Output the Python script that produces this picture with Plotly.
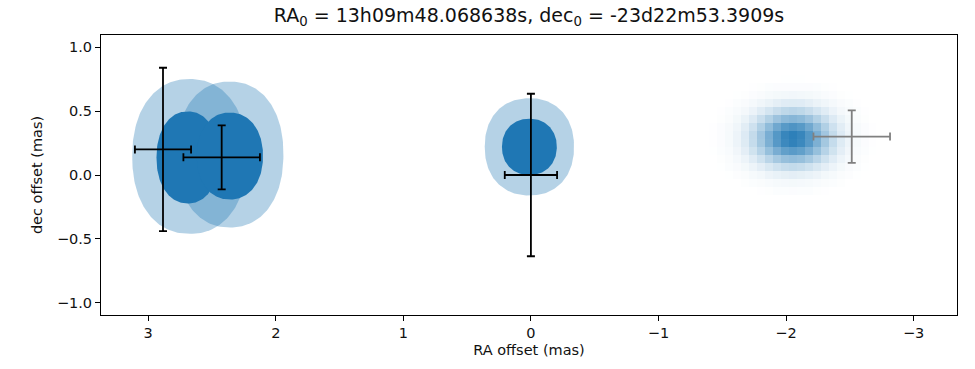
import numpy as np
import plotly.graph_objects as go

# ---- data ----
# outer (light) contours of the three sources
outer_x = [2.675, 2.36, 0.012]
outer_y = [0.145, 0.16, 0.22]
outer_rx = [0.45, 0.42, 0.35]
outer_ry = [0.605, 0.57, 0.38]
# inner (dark) contours
core_x = [2.69, 2.36, 0.012]
core_y = [0.137, 0.148, 0.22]
core_rx = [0.245, 0.26, 0.215]
core_ry = [0.36, 0.34, 0.22]

# black error bars
eb_x = [2.884, 2.424, 0.0]
eb_y = [0.20, 0.138, 0.0]
eb_xerr = [0.22, 0.30, 0.205]
eb_yerr = [0.638, 0.25, 0.635]

# grey error bar
gray_x = [-2.515]
gray_y = [0.30]
gray_xerr = [0.30]
gray_yerr = [0.205]

# pixelated model image (gaussian) parameters
img_cx, img_cy = -2.055, 0.29
img_sx, img_sy = 0.195, 0.14
img_step = 0.0625
img_half_x, img_half_y = 0.75, 0.6

x_ticks = [3, 2, 1, 0, -1, -2, -3]
x_ticklabels = ["3", "2", "1", "0", "\u22121", "\u22122", "\u22123"]
y_ticks = [-1.0, -0.5, 0.0, 0.5, 1.0]
y_ticklabels = ["\u22121.0", "\u22120.5", "0.0", "0.5", "1.0"]

BLUE = "#1f77b4"
LIGHT = "rgba(31,119,180,0.33)"


def superellipse(cx, cy, rx, ry, n=2.0, npts=200):
    t = np.linspace(0, 2 * np.pi, npts)
    c, s = np.cos(t), np.sin(t)
    x = cx + rx * np.sign(c) * np.abs(c) ** (2.0 / n)
    y = cy + ry * np.sign(s) * np.abs(s) ** (2.0 / n)
    return x, y


fig = go.Figure()

# model image
gx = np.arange(img_cx - img_half_x, img_cx + img_half_x + 1e-9, img_step)
gy = np.arange(img_cy - img_half_y, img_cy + img_half_y + 1e-9, img_step)
GX, GY = np.meshgrid(gx, gy)
Z = np.exp(-((GX - img_cx) ** 2) / (2 * img_sx ** 2) - ((GY - img_cy) ** 2) / (2 * img_sy ** 2))
fig.add_trace(go.Heatmap(
    x=gx, y=gy, z=Z, zmin=0, zmax=1.0,
    colorscale=[[0, "rgba(255,255,255,0)"], [0.01, "rgba(31,119,180,0.015)"], [1, "rgba(31,119,180,0.95)"]],
    showscale=False, hoverinfo="skip", zsmooth=False,
))

# light contours
for cx, cy, rx, ry in zip(outer_x, outer_y, outer_rx, outer_ry):
    x, y = superellipse(cx, cy, rx, ry, n=2.2)
    fig.add_trace(go.Scatter(x=x, y=y, fill="toself", fillcolor=LIGHT,
                             mode="lines", line=dict(width=0), hoverinfo="skip",
                             showlegend=False))
# dark contours
for cx, cy, rx, ry in zip(core_x, core_y, core_rx, core_ry):
    x, y = superellipse(cx, cy, rx, ry, n=2.15)
    fig.add_trace(go.Scatter(x=x, y=y, fill="toself", fillcolor=BLUE,
                             mode="lines", line=dict(width=0), hoverinfo="skip",
                             showlegend=False))

# error bars
fig.add_trace(go.Scatter(
    x=eb_x, y=eb_y, mode="markers", marker=dict(size=0.1, color="black"),
    error_x=dict(type="data", array=eb_xerr, color="black", thickness=1.8, width=4),
    error_y=dict(type="data", array=eb_yerr, color="black", thickness=1.8, width=4),
    showlegend=False, hoverinfo="skip",
))
fig.add_trace(go.Scatter(
    x=gray_x, y=gray_y, mode="markers", marker=dict(size=0.1, color="gray"),
    error_x=dict(type="data", array=gray_xerr, color="#808080", thickness=1.8, width=4),
    error_y=dict(type="data", array=gray_yerr, color="#808080", thickness=1.8, width=4),
    showlegend=False, hoverinfo="skip",
))

axis_common = dict(showline=True, linecolor="black", linewidth=1, mirror=True,
                   ticks="outside", ticklen=5, tickwidth=1, tickcolor="black",
                   showgrid=False, zeroline=False, tickfont=dict(size=14.5))

fig.update_layout(
    width=975, height=369,
    margin=dict(l=101, r=18, t=35, b=54),
    paper_bgcolor="white", plot_bgcolor="white",
    font=dict(family="DejaVu Sans", size=14.5, color="#111111"),
    title=dict(text="RA<sub>0</sub> = 13h09m48.068638s, dec<sub>0</sub> = -23d22m53.3909s",
               x=0.5, xref="paper", xanchor="center",
               y=1 - 15 / 369, yref="container", yanchor="middle",
               font=dict(size=19, color="#111111")),
    xaxis=dict(range=[3.37, -3.34], tickvals=x_ticks, ticktext=x_ticklabels,
               title=dict(text="RA offset (mas)", standoff=4, font=dict(size=14.5)),
               **axis_common),
    yaxis=dict(range=[-1.094, 1.094], tickvals=y_ticks, ticktext=y_ticklabels,
               title=dict(text="dec offset (mas)", standoff=10, font=dict(size=14.5)),
               **axis_common),
    showlegend=False,
)

fig.write_html("out.html")
